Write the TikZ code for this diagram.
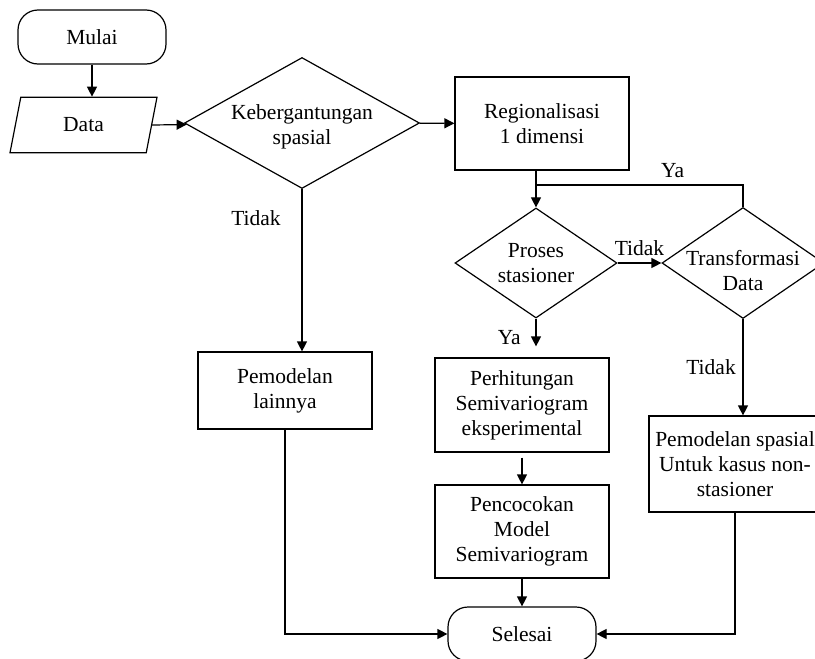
\documentclass[tikz,border=0pt]{standalone}
\usepackage{fontspec}
\setmainfont{Liberation Serif}
\usetikzlibrary{shapes.geometric,arrows.meta}

\tikzset{
  box/.style={draw, line width=0.6pt, align=center, inner sep=2pt},
  term/.style={box, rounded corners=10pt, minimum width=74pt, minimum height=27pt},
  proc/.style={box, minimum width=87pt},
  io/.style={draw, line width=0.6pt, trapezium, trapezium left angle=79, trapezium right angle=101,
    trapezium stretches body, minimum width=73.5pt, inner xsep=0pt, inner ysep=10.3pt},
  decision/.style={draw, line width=0.6pt, diamond, inner sep=0pt},
  arr/.style={-{Triangle[length=5pt,width=5pt]}, line width=0.6pt},
  line/.style={line width=0.6pt}
}

\begin{document}
\begin{tikzpicture}[x=0.5pt, y=-0.5pt, font=\fontsize{10.75}{12.5}\selectfont]
\useasboundingbox (0,0) rectangle (815,659);
\node[term] (M) at (92,37) {Mulai};
\node[io] (D) at (83.5,125) {Data};
\node[decision, minimum width=117.5pt, minimum height=65.5pt,
  label={[align=center, yshift=-2pt]center:Kebergantungan\\spasial}] (K) at (302,123) {};
\node[proc, minimum height=46.5pt] (R) at (542,123.5) {Regionalisasi\\1 dimensi};
\node[decision, minimum width=81pt, minimum height=55pt,
  label={[align=center]center:Proses\\stasioner}] (P) at (536,263) {};
\node[decision, minimum width=81pt, minimum height=55.5pt,
  label={[align=center, yshift=-4pt]center:Transformasi\\Data}] (T) at (743,263) {};
\node[proc, minimum height=38.5pt] (L) at (285,390.5) {Pemodelan\\lainnya};
\node[proc, minimum height=47pt] (H) at (522,405) {Perhitungan\\Semivariogram\\eksperimental};
\node[proc, minimum height=46.5pt] (C) at (522,531.5) {Pencocokan\\Model\\Semivariogram};
\node[proc, minimum width=86pt, minimum height=48pt] (N) at (735,464) {Pemodelan spasial\\Untuk kasus non-\\stasioner};
\node[term] (S) at (522,634) {Selesai};
\coordinate (J) at (536,185);

\draw[arr] (M) -- (M |- D.north);
\draw[arr] (D.east) -- (K);
\draw[arr] (K) -- (R);
\draw[arr] (K) -- node[pos=0.18, left, xshift=-7pt] {Tidak} (K |- L.north);
\draw[arr] (R.south -| P.north) -- (P);
\draw[line] (T) |- node[pos=0.67, above] {Ya} (J);
\draw[arr] (P) -- node[above] {Tidak} (T);
\draw[arr, shorten >=5.5pt] (P) -- node[left, xshift=-4pt] {Ya} (P |- H.north);
\draw[arr, shorten <=2.5pt] (H) -- (C);
\draw[arr] (C) -- (S);
\draw[arr] (T) -- node[left] {Tidak} (T |- N.north);
\draw[arr] (L) |- (S);
\draw[arr] (N) |- (S);
\end{tikzpicture}
\end{document}
